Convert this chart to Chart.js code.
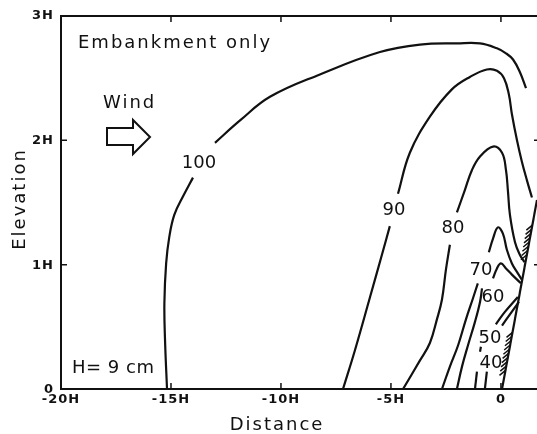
<!DOCTYPE html>
<html>
<head>
<meta charset="utf-8">
<script src="https://cdn.jsdelivr.net/npm/chart.js@4.4.1/dist/chart.umd.min.js"></script>
<style>
  html, body { margin: 0; padding: 0; background: #fff; }
  #wrap { width: 537px; height: 434px; }
</style>
</head>
<body>
<div id="wrap"><canvas id="chart" width="537" height="434"></canvas></div>
<script>
// axis ticks (distance and elevation in units of H)
const xTicks = [-20, -15, -10, -5, 0];
const xTickLabels = ['-20H', '-15H', '-10H', '-5H', '0'];
const yTicks = [0, 1, 2, 3];
const yTickLabels = ['0', '1H', '2H', '3H'];

// contour lines, [x, y], split where the labels sit
const c100Low = [[-15.18, 0], [-15.27, 0.39], [-15.3, 0.69], [-15.22, 1.01], [-15.08, 1.22], [-14.85, 1.40], [-14.45, 1.55], [-14.0, 1.70]];
const c100Up = [[-13.0, 1.98], [-11.86, 2.16], [-10.5, 2.35], [-8.23, 2.53], [-5.5, 2.71], [-3.68, 2.77], [-2.0, 2.78], [-0.95, 2.78], [-0.18, 2.74], [0.23, 2.70], [0.55, 2.65], [0.86, 2.55], [1.14, 2.42]];
const c90Low = [[-7.18, 0], [-6.64, 0.31], [-5.95, 0.74], [-5.41, 1.08], [-5.05, 1.31]];
const c90Up = [[-4.68, 1.57], [-4.14, 1.90], [-3.23, 2.19], [-2.23, 2.41], [-1.41, 2.51], [-0.64, 2.57], [-0.18, 2.56], [0.14, 2.50], [0.36, 2.37], [0.5, 2.21], [0.73, 2.0], [0.95, 1.83], [1.18, 1.68], [1.41, 1.54]];
const c80Low = [[-4.45, 0], [-3.68, 0.23], [-3.23, 0.37], [-2.91, 0.56], [-2.68, 0.72], [-2.5, 0.96], [-2.32, 1.16]];
const c80Up = [[-2.0, 1.42], [-1.64, 1.60], [-1.32, 1.76], [-0.95, 1.87], [-0.36, 1.95], [0.05, 1.90], [0.23, 1.76], [0.32, 1.59], [0.41, 1.40], [0.64, 1.18], [0.86, 1.08], [1.07, 1.02]];
const c70Low = [[-2.68, 0], [-2.32, 0.18], [-1.95, 0.35], [-1.59, 0.56], [-1.27, 0.73], [-1.05, 0.85]];
const c70Up = [[-0.55, 1.10], [-0.36, 1.21], [-0.14, 1.30], [0.09, 1.25], [0.27, 1.12], [0.5, 1.01], [0.77, 0.93], [0.95, 0.88]];
const c60Low = [[-2.0, 0], [-1.77, 0.18], [-1.5, 0.35], [-1.18, 0.54], [-0.95, 0.70], [-0.86, 0.81]];
const c60Up = [[-0.36, 0.89], [-0.18, 0.97], [0, 1.01], [0.23, 0.97], [0.5, 0.92], [0.91, 0.85]];
const c50Low = [[-1.18, 0], [-1.09, 0.14]];
const c50Mid = [[-0.95, 0.30], [-0.91, 0.34]];
const c50Up = [[-0.23, 0.52], [0.18, 0.62], [0.77, 0.74]];
const c40Low = [[-0.73, 0], [-0.64, 0.14]];
const c40Up = [[0.05, 0.51], [0.41, 0.60], [0.82, 0.70]];
const embankment = [[0.05, 0], [1.64, 1.52]];

// contour labels and where they are written
const contourLabels = ['100', '90', '80', '70', '60', '50', '40'];
const labelX = [-13.73, -4.86, -2.18, -0.91, -0.36, -0.5, -0.45];
const labelY = [1.826, 1.448, 1.303, 0.973, 0.748, 0.426, 0.225];

const segments = [c100Low, c100Up, c90Low, c90Up, c80Low, c80Up, c70Low, c70Up,
  c60Low, c60Up, c50Low, c50Mid, c50Up, c40Low, c40Up];

const lineSet = (pts, tension) => ({
  data: pts.map(([x, y]) => ({ x, y })),
  showLine: true,
  borderColor: '#111',
  borderWidth: 2.2,
  pointRadius: 0,
  tension: tension,
  fill: false
});

const FONT = '"DejaVu Sans", sans-serif';

const frame = {
  id: 'frame',
  afterDraw(chart) {
    const { ctx, chartArea: a, scales: { x, y } } = chart;
    ctx.save();
    ctx.strokeStyle = '#111';
    ctx.fillStyle = '#111';

    // box
    ctx.lineWidth = 2;
    ctx.beginPath();
    ctx.moveTo(a.right + 2, a.top);
    ctx.lineTo(a.left, a.top);
    ctx.lineTo(a.left, a.bottom);
    ctx.lineTo(a.right + 2, a.bottom);
    ctx.stroke();

    // inward ticks
    ctx.lineWidth = 1.5;
    ctx.beginPath();
    xTicks.slice(1).forEach(v => {
      const px = x.getPixelForValue(v);
      ctx.moveTo(px, a.bottom); ctx.lineTo(px, a.bottom - 6);
      ctx.moveTo(px, a.top); ctx.lineTo(px, a.top + 6);
    });
    yTicks.slice(1, 3).forEach(v => {
      const py = y.getPixelForValue(v);
      ctx.moveTo(a.left, py); ctx.lineTo(a.left + 6, py);
      ctx.moveTo(a.right, py); ctx.lineTo(a.right - 3, py);
    });
    ctx.stroke();

    // tick labels
    ctx.font = 'bold 13px ' + FONT;
    ctx.letterSpacing = '1px';
    ctx.textBaseline = 'alphabetic';
    ctx.textAlign = 'center';
    xTicks.forEach((v, i) => ctx.fillText(xTickLabels[i], x.getPixelForValue(v), a.bottom + 14));
    ctx.textAlign = 'right';
    yTicks.forEach((v, i) => ctx.fillText(yTickLabels[i], a.left - 7, y.getPixelForValue(v) + (v === 3 ? 3 : 4)));

    // axis titles
    ctx.font = '18px ' + FONT;
    ctx.letterSpacing = '2px';
    ctx.textAlign = 'center';
    ctx.fillText('Distance', 277, 430);
    ctx.save();
    ctx.translate(25, 199);
    ctx.rotate(-Math.PI / 2);
    ctx.fillText('Elevation', 0, 0);
    ctx.restore();

    // contour labels
    ctx.letterSpacing = '0px';
    contourLabels.forEach((t, i) => {
      ctx.fillText(t, x.getPixelForValue(labelX[i]), y.getPixelForValue(labelY[i]) + 6.5);
    });

    // annotations
    ctx.textAlign = 'left';
    ctx.letterSpacing = '2px';
    ctx.fillText('Embankment only', 78, 48);
    ctx.fillText('Wind', 103, 108);
    ctx.letterSpacing = '0.5px';
    ctx.fillText('H= 9 cm', 72, 373);

    // wind arrow
    ctx.lineWidth = 2;
    ctx.beginPath();
    ctx.moveTo(107, 128); ctx.lineTo(133, 128); ctx.lineTo(133, 120);
    ctx.lineTo(150, 137); ctx.lineTo(133, 154); ctx.lineTo(133, 145);
    ctx.lineTo(107, 145); ctx.closePath();
    ctx.stroke();

    // hatching on the embankment face
    const [p0, p1] = embankment;
    ctx.lineWidth = 1.5;
    ctx.beginPath();
    [[0.15, 0.49], [1.08, 1.34]].forEach(([ya, yb]) => {
      for (let v = ya; v <= yb; v += 0.034) {
        const t = (v - p0[1]) / (p1[1] - p0[1]);
        const px = x.getPixelForValue(p0[0] + t * (p1[0] - p0[0]));
        const py = y.getPixelForValue(v);
        ctx.moveTo(px, py); ctx.lineTo(px - 6, py + 5);
      }
    });
    ctx.stroke();
    ctx.restore();
  }
};

new Chart(document.getElementById('chart'), {
  type: 'scatter',
  data: {
    datasets: segments.map(s => lineSet(s, 0.4)).concat([lineSet(embankment, 0)])
  },
  options: {
    responsive: false,
    animation: false,
    events: [],
    layout: { padding: { left: 61, top: 16, right: 0, bottom: 45 } },
    plugins: { legend: { display: false }, tooltip: { enabled: false } },
    scales: {
      x: { type: 'linear', min: -20, max: 1.64, display: false },
      y: { type: 'linear', min: 0, max: 3, display: false }
    }
  },
  plugins: [frame]
});
</script>
</body>
</html>
